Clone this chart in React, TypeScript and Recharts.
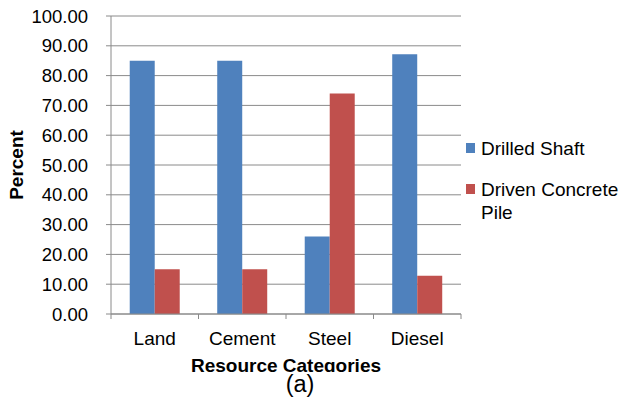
import React from 'react';
import { BarChart, Bar, XAxis, YAxis, CartesianGrid } from 'recharts';

const categories = ['Land', 'Cement', 'Steel', 'Diesel'];
const drilledShaft = [85, 85, 26, 87.2];
const drivenPile = [15, 15, 74, 12.8];
const yTicks = [0, 10, 20, 30, 40, 50, 60, 70, 80, 90, 100];

const seriesNames = ['Drilled Shaft', 'Driven Concrete Pile'];
const seriesColors = ['#4F81BD', '#C0504D'];

const FONT = '"Liberation Sans", Arial, sans-serif';
const GRID = '#8a8a8a';

const chartData = categories.map((name, i) => ({
  name,
  drilled: drilledShaft[i],
  driven: drivenPile[i],
}));

const CategoryTick = (props: any) => {
  const { x, y, payload, index } = props;
  const half = payload.offset || 0;
  const last = index === categories.length - 1;
  return (
    <g>
      <line x1={x - half} x2={x - half} y1={y} y2={y + 5} stroke={GRID} />
      {last && <line x1={x + half} x2={x + half} y1={y} y2={y + 5} stroke={GRID} />}
      <text x={x} y={y + 31.3} textAnchor="middle" fontSize={19} fontFamily={FONT} fill="#000">
        {payload.value}
      </text>
    </g>
  );
};

const App: React.FC = () => {
  return (
    <div style={{ position: 'absolute', left: 0, top: 0, width: 621, height: 402, fontFamily: FONT, background: '#fff' }}>
      <div style={{ position: 'absolute', left: 0, top: 0, width: 621, height: 372, overflow: 'hidden' }}>
        <BarChart
          width={621}
          height={372}
          data={chartData}
          margin={{ top: 16, right: 160, bottom: 0, left: 0 }}
          barCategoryGap="21.4%"
          barGap={0}
        >
          <CartesianGrid vertical={false} stroke={GRID} />
          <XAxis
            dataKey="name"
            height={58}
            axisLine={{ stroke: GRID }}
            tickLine={false}
            tickSize={0}
            tickMargin={0}
            interval={0}
            tick={<CategoryTick />}
            label={(p: any) => {
              const vb = p.viewBox;
              return (
                <text
                  x={vb.x + vb.width / 2}
                  y={vb.y + 57.6}
                  textAnchor="middle"
                  fontSize={19}
                  fontWeight="bold"
                  fontFamily={FONT}
                  fill="#000"
                >
                  Resource Categories
                </text>
              );
            }}
          />
          <YAxis
            width={111}
            domain={[0, 100]}
            ticks={yTicks}
            interval={0}
            tickFormatter={(v: number) => v.toFixed(2)}
            axisLine={{ stroke: GRID }}
            tickLine={{ stroke: GRID }}
            tickSize={5}
            tickMargin={18}
            tick={{ fontSize: 18.5, fill: '#000', fontFamily: FONT }}
            label={(p: any) => {
              const vb = p.viewBox;
              const cy = vb.y + vb.height / 2;
              return (
                <text
                  x={16}
                  y={cy}
                  transform={`rotate(-90 16 ${cy})`}
                  textAnchor="middle"
                  dominantBaseline="central"
                  fontSize={19}
                  fontWeight="bold"
                  fontFamily={FONT}
                  fill="#000"
                >
                  Percent
                </text>
              );
            }}
          />
          <Bar dataKey="drilled" name={seriesNames[0]} fill={seriesColors[0]} isAnimationActive={false} />
          <Bar dataKey="driven" name={seriesNames[1]} fill={seriesColors[1]} isAnimationActive={false} />
        </BarChart>
      </div>

      <div style={{ position: 'absolute', left: 466, top: 137.4, width: 155, fontSize: 19, color: '#000' }}>
        {seriesNames.map((s, i) => (
          <div key={s} style={{ display: 'flex', alignItems: 'flex-start', marginBottom: 17.4 }}>
            <div style={{ width: 9, height: 10, marginTop: 6, background: seriesColors[i], flex: 'none' }} />
            <div style={{ marginLeft: 6, width: 138, lineHeight: '23.3px' }}>{s}</div>
          </div>
        ))}
      </div>

      <div style={{ position: 'absolute', left: 250, top: 371, width: 100, textAlign: 'center', fontSize: 23.5, lineHeight: 'normal', color: '#000' }}>
        (a)
      </div>
    </div>
  );
};

export default App;
